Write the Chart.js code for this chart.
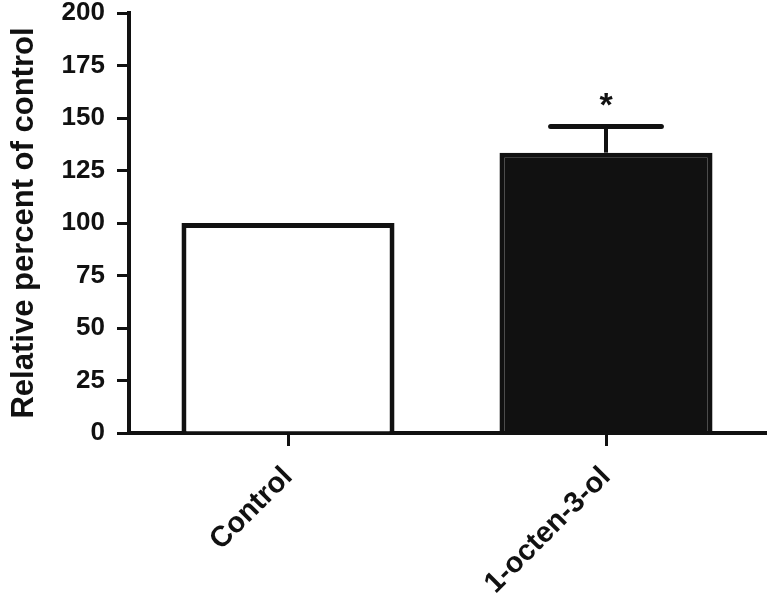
<!DOCTYPE html>
<html>
<head>
<meta charset="utf-8">
<script src="https://cdn.jsdelivr.net/npm/chart.js@4.4.1/dist/chart.umd.min.js"></script>
<style>
  html, body { margin: 0; padding: 0; background: #fff; }
  #wrap { width: 774px; height: 602px; }
</style>
</head>
<body>
<div id="wrap"><canvas id="c" width="774" height="602"></canvas></div>
<script>
// datos
const categories = ['Control', '1-octen-3-ol'];
const meanValues = [100, 133.5];
const semValues = [0, 12.5];
const significant = [false, true];
const yMin = 0;
const yMax = 200;
const yStep = 25;
const yTitle = 'Relative percent of control';

const FONT = '"Liberation Sans", Arial, Helvetica, sans-serif';
const INK = '#111';

// barras de error + asterisco
const errorBars = {
    id: 'errorBars',
    afterDatasetsDraw(chart) {
        const ctx = chart.ctx;
        const meta = chart.getDatasetMeta(0);
        const y = chart.scales.y;
        ctx.save();
        ctx.strokeStyle = INK;
        ctx.fillStyle = INK;
        meta.data.forEach((bar, i) => {
            const top = meanValues[i] + semValues[i];
            if (semValues[i] > 0) {
                const yTop = y.getPixelForValue(top);
                const yMean = y.getPixelForValue(meanValues[i]);
                const half = bar.width * 0.26;
                ctx.lineWidth = 4;
                ctx.beginPath();
                ctx.moveTo(bar.x, yMean);
                ctx.lineTo(bar.x, yTop);
                ctx.stroke();
                ctx.lineWidth = 5;
                ctx.lineCap = 'round';
                ctx.beginPath();
                ctx.moveTo(bar.x - half, yTop);
                ctx.lineTo(bar.x + half, yTop);
                ctx.stroke();
            }
            if (significant[i]) {
                ctx.font = 'bold 34px ' + FONT;
                ctx.textAlign = 'center';
                ctx.textBaseline = 'middle';
                ctx.fillText('*', bar.x, y.getPixelForValue(top) - 20);
            }
        });
        ctx.restore();
    }
};

new Chart(document.getElementById('c'), {
    type: 'bar',
    data: {
        labels: categories,
        datasets: [{
            data: meanValues,
            backgroundColor: ['#ffffff', INK],
            borderColor: INK,
            borderWidth: 5,
            borderSkipped: 'bottom',
            barPercentage: 0.67,
            categoryPercentage: 1
        }]
    },
    options: {
        responsive: false,
        animation: false,
        devicePixelRatio: 1,
        layout: { padding: { top: 13, right: 9, left: 0, bottom: 0 } },
        plugins: { legend: { display: false }, tooltip: { enabled: false } },
        scales: {
            x: {
                offset: true,
                grid: { display: true, drawOnChartArea: false, drawTicks: true, tickLength: 13, offset: false, color: INK, lineWidth: 3 },
                border: { display: true, color: INK, width: 4 },
                ticks: {
                    color: INK,
                    minRotation: 45,
                    maxRotation: 45,
                    padding: 14,
                    font: { family: FONT, size: 29, weight: 'bold' }
                },
                afterFit(scale) {
                    scale.height = 169;
                    scale.paddingLeft = 0;
                    scale.paddingRight = 0;
                }
            },
            y: {
                min: yMin,
                max: yMax,
                grid: { display: true, drawOnChartArea: false, drawTicks: true, tickLength: 12, color: INK, lineWidth: 3 },
                border: { display: true, color: INK, width: 4 },
                ticks: {
                    stepSize: yStep,
                    color: INK,
                    padding: 12,
                    font: { family: FONT, size: 26, weight: 'bold' }
                },
                title: {
                    display: true,
                    text: yTitle,
                    color: INK,
                    padding: { top: 6, bottom: 0 },
                    font: { family: FONT, size: 31, weight: 'bold' }
                },
                afterFit(scale) {
                    scale.width = 129;
                    scale.paddingTop = 0;
                    scale.paddingBottom = 0;
                }
            }
        }
    },
    plugins: [errorBars]
});
</script>
</body>
</html>
